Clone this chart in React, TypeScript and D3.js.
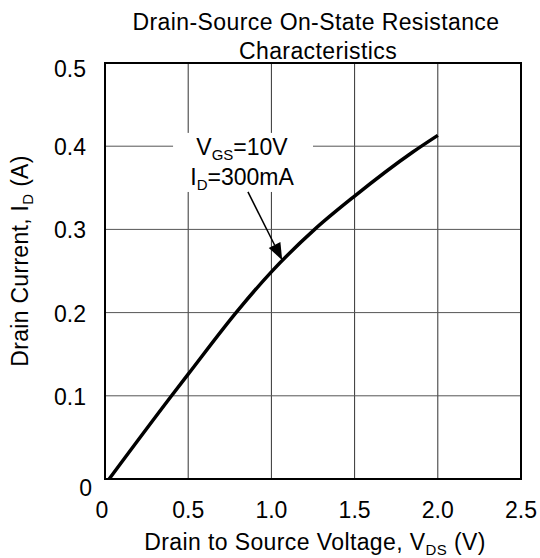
import * as d3 from "d3";

const vds = [0.025, 0.4, 0.5, 0.8, 1.0, 1.26, 1.5, 1.85, 2.0];
const idA = [0, 0.1, 0.126, 0.203, 0.249, 0.3, 0.34, 0.393, 0.413];
const xTicks = [0, 0.5, 1.0, 1.5, 2.0, 2.5];
const yTicks = [0, 0.1, 0.2, 0.3, 0.4, 0.5];
const xTickLabels = ["0", "0.5", "1.0", "1.5", "2.0", "2.5"];
const yTickLabels = ["0", "0.1", "0.2", "0.3", "0.4", "0.5"];
// annotation anchor points in data units
const arrowFrom = [0.859, 0.345];
const arrowTo = [1.065, 0.263];
const labelBox = [0.409, 1.25, 0.416, 0.345];

const W = 540;
const H = 558;
const margin = { top: 63, right: 19, bottom: 79, left: 105 };
const FONT = "'Liberation Sans', Arial, sans-serif";
const FS = 23;
const SUB = 15;

export default function App() {
  const iw = W - margin.left - margin.right;
  const ih = H - margin.top - margin.bottom;
  const x = d3.scaleLinear().domain([0, 2.5]).range([0, iw]);
  const y = d3.scaleLinear().domain([0, 0.5]).range([ih, 0]);

  const pts = vds.map((v, i) => [v, idA[i]] as [number, number]);
  const line = d3
    .line<[number, number]>()
    .x((d) => x(d[0]))
    .y((d) => y(d[1]))
    .curve(d3.curveMonotoneX);

  // arrowhead
  const ax0 = x(arrowFrom[0]);
  const ay0 = y(arrowFrom[1]);
  const ax1 = x(arrowTo[0]);
  const ay1 = y(arrowTo[1]);
  const ang = Math.atan2(ay1 - ay0, ax1 - ax0);
  const hl = 17;
  const hw = 6.5;
  const bx = ax1 - hl * Math.cos(ang);
  const by = ay1 - hl * Math.sin(ang);
  const head = [
    [ax1, ay1],
    [bx + hw * Math.sin(ang), by - hw * Math.cos(ang)],
    [bx - hw * Math.sin(ang), by + hw * Math.cos(ang)],
  ]
    .map((p) => p.join(","))
    .join(" ");

  const bx0 = x(labelBox[0]);
  const bx1 = x(labelBox[1]);
  const by0 = y(labelBox[2]);
  const by1 = y(labelBox[3]);
  const cx = (bx0 + bx1) / 2 - 1;

  return (
    <svg
      width={W}
      height={H}
      style={{ position: "fixed", left: 0, top: 0, display: "block", fontFamily: FONT }}
    >
      <rect width={W} height={H} fill="#fff" />
      <text x={316} y={30} textAnchor="middle" fontSize={FS} letterSpacing={0.4} fill="#000">
        Drain-Source On-State Resistance
      </text>
      <text x={318} y={59} textAnchor="middle" fontSize={FS} letterSpacing={0.4} fill="#000">
        Characteristics
      </text>
      <text transform="translate(28,261) rotate(-90)" textAnchor="middle" fontSize={FS} letterSpacing={0.3} fill="#000">
        Drain Current, I<tspan fontSize={SUB} dy={5}>D</tspan>
        <tspan dy={-5}> (A)</tspan>
      </text>
      <g transform={`translate(${margin.left},${margin.top})`}>
        {xTicks.slice(1, -1).map((t) => (
          <line key={"gx" + t} x1={x(t)} x2={x(t)} y1={0} y2={ih} stroke="#333" strokeWidth={1} />
        ))}
        {yTicks.slice(1, -1).map((t) => (
          <line key={"gy" + t} x1={0} x2={iw} y1={y(t)} y2={y(t)} stroke="#555" strokeWidth={1} />
        ))}
        <rect x={bx0} y={by0} width={bx1 - bx0} height={by1 - by0} fill="#fff" />
        <rect x={0} y={0} width={iw} height={ih} fill="none" stroke="#000" strokeWidth={2} />
        <path d={line(pts) ?? ""} fill="none" stroke="#000" strokeWidth={3.5} />
        <line x1={ax0} y1={ay0} x2={bx} y2={by} stroke="#000" strokeWidth={1.5} />
        <polygon points={head} fill="#000" />
        <text x={cx} y={by0 + 22} textAnchor="middle" fontSize={FS} fill="#000">
          V<tspan fontSize={SUB} dy={5}>GS</tspan>
          <tspan dy={-5}>=10V</tspan>
        </text>
        <text x={cx} y={by0 + 52} textAnchor="middle" fontSize={FS} fill="#000">
          I<tspan fontSize={SUB} dy={5}>D</tspan>
          <tspan dy={-5}>=300mA</tspan>
        </text>
        {xTicks.map((t, i) => (
          <text key={"tx" + t} x={x(t) - (i === 0 ? 3 : 0)} y={ih + 39} textAnchor="middle" fontSize={FS} fill="#000">
            {xTickLabels[i]}
          </text>
        ))}
        {yTicks.map((t, i) => (
          <text
            key={"ty" + t}
            x={i === 0 ? -13 : -19}
            y={i === 0 ? ih + 17 : y(t) + (i === 5 ? 14 : 9)}
            textAnchor="end"
            fontSize={FS}
            fill="#000"
          >
            {yTickLabels[i]}
          </text>
        ))}
        <text x={iw / 2 + 2} y={ih + 71} textAnchor="middle" fontSize={FS} letterSpacing={0.4} fill="#000">
          Drain to Source Voltage, V<tspan fontSize={SUB} dy={5}>DS</tspan>
          <tspan dy={-5}> (V)</tspan>
        </text>
      </g>
    </svg>
  );
}
